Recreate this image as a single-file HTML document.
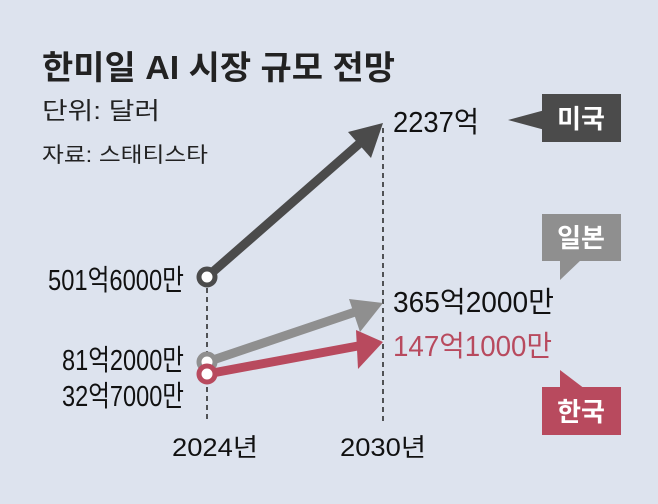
<!DOCTYPE html><html><head><meta charset="utf-8"><style>body{margin:0;background:#dde3ee}svg{display:block}text{font-family:"Liberation Sans","Noto Sans CJK KR",sans-serif}</style></head><body>
<svg width="658" height="504" viewBox="0 0 658 504">
<rect width="658" height="504" fill="#dde3ee"/>
<text x="42" y="79" font-size="33" font-weight="bold" fill="#222" textLength="353" lengthAdjust="spacingAndGlyphs">한미일 AI 시장 규모 전망</text>
<text x="42" y="119" font-size="24" fill="#222" textLength="118" lengthAdjust="spacingAndGlyphs">단위: 달러</text>
<text x="42" y="162" font-size="21" fill="#222" textLength="166" lengthAdjust="spacingAndGlyphs">자료: 스태티스타</text>
<g stroke="#222" stroke-width="1.5" stroke-dasharray="5,4"><line x1="207" y1="288" x2="207" y2="422"/><line x1="383" y1="128" x2="383" y2="422"/></g>
<g stroke-width="9" stroke-linecap="butt">
<line x1="207" y1="277" x2="360" y2="143" stroke="#4b4b4b"/>
<line x1="207" y1="362" x2="358" y2="311" stroke="#8f8f8f"/>
<line x1="207" y1="374" x2="358" y2="346" stroke="#b84a5e"/>
</g>
<polygon points="383,123 348,132 371,158" fill="#4b4b4b"/>
<polygon points="383,303 349,299 360,332" fill="#8f8f8f"/>
<polygon points="383,342 356,330 358,369" fill="#b84a5e"/>
<circle cx="207" cy="277" r="8" fill="#fff" stroke="#4b4b4b" stroke-width="5"/>
<circle cx="207" cy="362" r="8" fill="#fff" stroke="#8f8f8f" stroke-width="5"/>
<circle cx="207" cy="374" r="8" fill="#fff" stroke="#b84a5e" stroke-width="5"/>
<g font-size="29" fill="#111" text-anchor="end">
<text x="184" y="290" textLength="136" lengthAdjust="spacingAndGlyphs">501억6000만</text>
<text x="184" y="370" textLength="122" lengthAdjust="spacingAndGlyphs">81억2000만</text>
<text x="184" y="406" textLength="122" lengthAdjust="spacingAndGlyphs">32억7000만</text>
</g>
<g font-size="29" fill="#111">
<text x="393" y="132" textLength="86" lengthAdjust="spacingAndGlyphs">2237억</text>
<text x="393" y="312" textLength="161" lengthAdjust="spacingAndGlyphs">365억2000만</text>
<text x="393" y="356" textLength="159" lengthAdjust="spacingAndGlyphs" fill="#b84a5e">147억1000만</text>
<text x="215" y="456" text-anchor="middle" font-size="25" textLength="86" lengthAdjust="spacingAndGlyphs">2024년</text>
<text x="383" y="456" text-anchor="middle" font-size="25" textLength="86" lengthAdjust="spacingAndGlyphs">2030년</text>
</g>
<rect x="542" y="94" width="79" height="48" fill="#4b4b4b"/><polygon points="508,120 545,110 545,130" fill="#4b4b4b"/>
<rect x="542" y="214" width="79" height="47" fill="#8f8f8f"/><polygon points="560,259 582,259 560,280" fill="#8f8f8f"/>
<rect x="542" y="387" width="79" height="48" fill="#b84a5e"/><polygon points="560,370 585,389 560,389" fill="#b84a5e"/>
<g font-size="26" font-weight="bold" fill="#fff" text-anchor="middle">
<text x="581" y="128">미국</text><text x="581" y="247">일본</text><text x="581" y="421">한국</text>
</g>
</svg></body></html>
